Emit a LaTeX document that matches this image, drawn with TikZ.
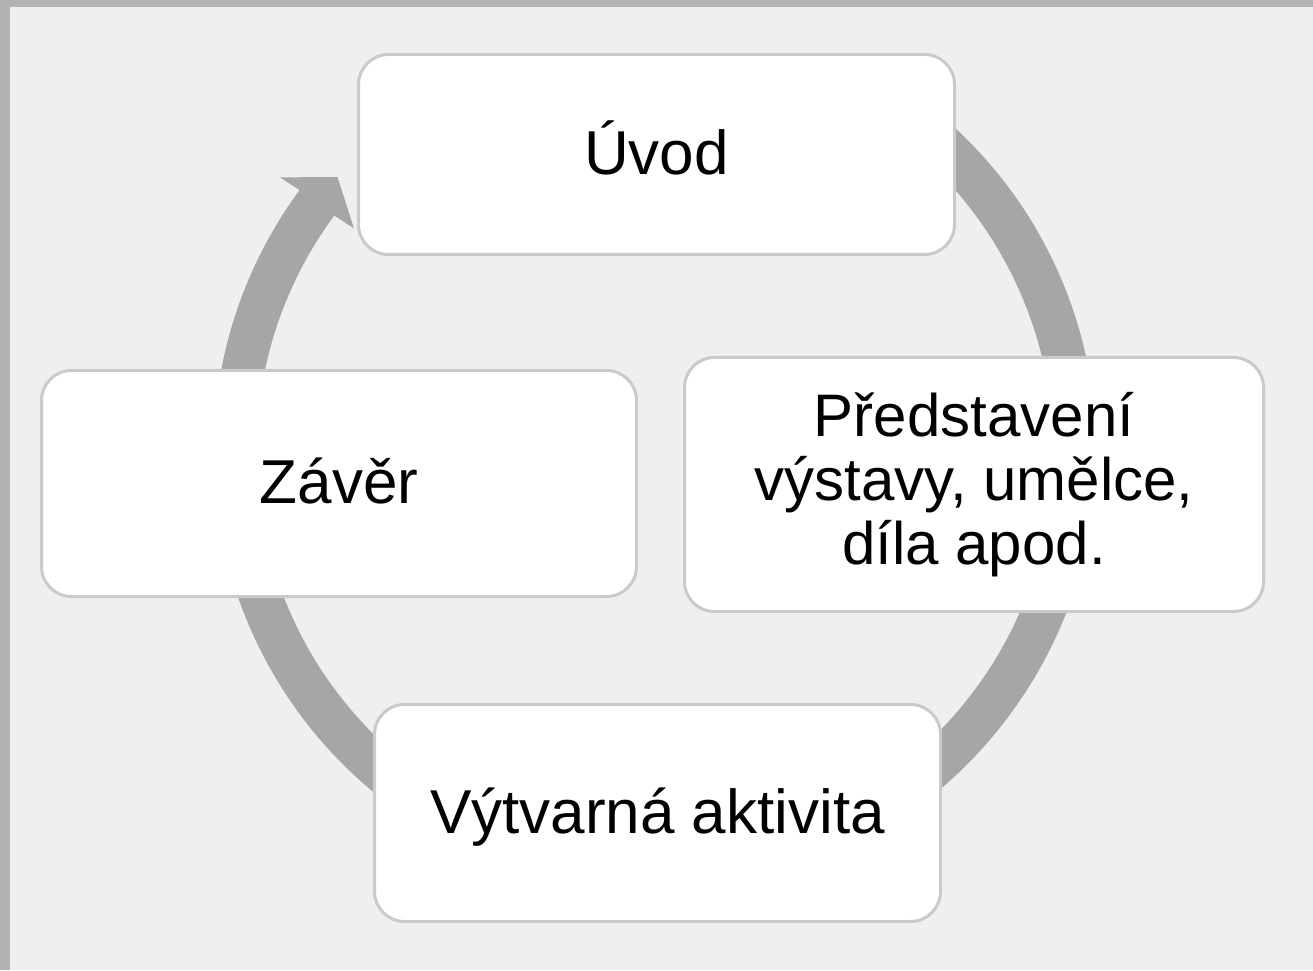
\documentclass[tikz,border=0pt]{standalone}
\usepackage{fontspec}
\setmainfont{Liberation Sans}
\definecolor{bgcol}{HTML}{EFEFEF}
\definecolor{framecol}{HTML}{B2B2B2}
\definecolor{ringcol}{HTML}{A6A6A6}
\definecolor{boxline}{HTML}{CACACA}
\tikzset{
  stagebox/.style={draw=boxline, line width=3pt, fill=white, rounded corners=30pt,
    inner sep=0pt, text=black, align=center},
  bigtext/.style={font=\fontsize{62}{70}\selectfont, text height=45pt, text depth=5pt},
  midtext/.style={font=\fontsize{60}{64}\selectfont},
  ring/.style={fill=ringcol, draw=none}
}
\begin{document}
\begin{tikzpicture}[x=1pt,y=1pt]
\useasboundingbox (0,0) rectangle (1313,970);
\fill[bgcol] (0,0) rectangle (1313,970);
\fill[framecol] (0,963) rectangle (1313,970);
\fill[framecol] (0,0) rectangle (10,970);
% ring centre
\coordinate (C) at (655,518);
% circular arrow
\fill[ring] ([shift={(55:441.5pt)}]C) arc[start angle=55, end angle=-216.4, radius=441.5pt]
  -- ([shift={(-216.2:465pt)}]C)
  -- ([shift={(-220.9:420pt)}]C)
  -- ([shift={(-216.6:375pt)}]C)
  -- ([shift={(-216.4:398.5pt)}]C)
  arc[start angle=-216.4, end angle=55, radius=398.5pt] -- cycle;
% stages
\node[stagebox, bigtext, minimum width=596pt, minimum height=200pt] (uvod) at (656.5,815.5) {Úvod};
\node[stagebox, midtext, minimum width=579pt, minimum height=254pt] (predst) at (974,485.5)
  {Představení\\výstavy, umělce,\\díla apod.};
\node[stagebox, bigtext, minimum width=566pt, minimum height=217pt] (vytv) at (657.5,157) {Výtvarná aktivita};
\node[stagebox, bigtext, minimum width=595pt, minimum height=226pt] (zaver) at (339,486.5) {Závěr};
\end{tikzpicture}
\end{document}
